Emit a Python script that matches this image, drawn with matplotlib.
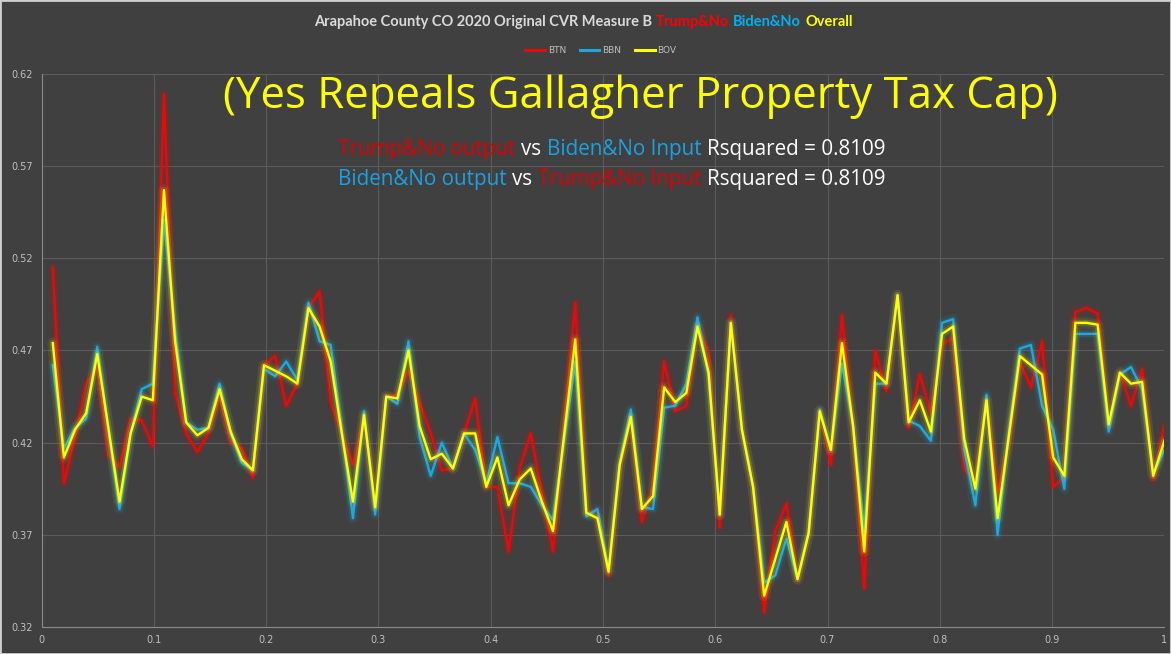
import numpy as np
import matplotlib
matplotlib.use("Agg")
from matplotlib import pyplot as plt
import matplotlib.patheffects as pe
from matplotlib.patches import Rectangle

# 101 points evenly spread over (0, 1]
x = np.arange(1, 102) / 101

btn = [0.515, 0.398, 0.423, 0.452, 0.461, 0.413, 0.407, 0.433, 0.432, 0.418,
       0.609, 0.447, 0.425, 0.415, 0.425, 0.445, 0.420, 0.417, 0.401, 0.462,
       0.467, 0.440, 0.452, 0.493, 0.502, 0.442, 0.425, 0.408, 0.434, 0.385,
       0.445, 0.446, 0.459, 0.442, 0.425, 0.405, 0.406, 0.425, 0.444, 0.396,
       0.396, 0.361, 0.406, 0.425, 0.393, 0.361, 0.429, 0.496, 0.382, 0.383,
       0.348, 0.407, 0.433, 0.377, 0.396, 0.464, 0.437, 0.440, 0.484, 0.469,
       0.374, 0.489, 0.427, 0.396, 0.328, 0.372, 0.387, 0.345, 0.371, 0.438,
       0.408, 0.489, 0.427, 0.341, 0.470, 0.448, 0.500, 0.428, 0.457, 0.436,
       0.473, 0.477, 0.406, 0.398, 0.444, 0.393, 0.420, 0.464, 0.450, 0.475,
       0.396, 0.401, 0.491, 0.493, 0.490, 0.429, 0.458, 0.440, 0.460, 0.400,
       0.429]
bbn = [0.462, 0.417, 0.428, 0.433, 0.472, 0.427, 0.384, 0.425, 0.449, 0.452,
       0.541, 0.481, 0.431, 0.427, 0.428, 0.452, 0.425, 0.409, 0.405, 0.460,
       0.456, 0.464, 0.454, 0.496, 0.475, 0.473, 0.427, 0.379, 0.437, 0.381,
       0.445, 0.441, 0.475, 0.423, 0.402, 0.420, 0.406, 0.425, 0.416, 0.398,
       0.423, 0.398, 0.398, 0.396, 0.386, 0.378, 0.421, 0.464, 0.380, 0.384,
       0.351, 0.409, 0.438, 0.385, 0.384, 0.439, 0.440, 0.452, 0.488, 0.456,
       0.381, 0.485, 0.427, 0.396, 0.344, 0.348, 0.368, 0.346, 0.371, 0.438,
       0.416, 0.463, 0.429, 0.372, 0.452, 0.452, 0.500, 0.432, 0.429, 0.421,
       0.485, 0.487, 0.416, 0.386, 0.446, 0.370, 0.425, 0.471, 0.473, 0.440,
       0.427, 0.395, 0.479, 0.479, 0.479, 0.426, 0.457, 0.461, 0.449, 0.403,
       0.416]
bov = [0.474, 0.412, 0.427, 0.436, 0.468, 0.428, 0.388, 0.425, 0.445, 0.443,
       0.557, 0.475, 0.431, 0.424, 0.428, 0.449, 0.426, 0.411, 0.405, 0.462,
       0.459, 0.456, 0.452, 0.493, 0.483, 0.464, 0.425, 0.388, 0.435, 0.385,
       0.445, 0.444, 0.470, 0.429, 0.411, 0.414, 0.406, 0.425, 0.425, 0.396,
       0.412, 0.386, 0.400, 0.406, 0.388, 0.372, 0.424, 0.476, 0.382, 0.379,
       0.350, 0.408, 0.434, 0.384, 0.391, 0.450, 0.442, 0.447, 0.483, 0.458,
       0.381, 0.485, 0.427, 0.396, 0.337, 0.357, 0.377, 0.346, 0.371, 0.437,
       0.416, 0.474, 0.429, 0.361, 0.458, 0.452, 0.500, 0.431, 0.443, 0.426,
       0.479, 0.483, 0.422, 0.395, 0.443, 0.379, 0.423, 0.467, 0.462, 0.457,
       0.412, 0.402, 0.485, 0.485, 0.484, 0.430, 0.458, 0.452, 0.453, 0.402,
       0.421]

names = ["BTN", "BBN", "BOV"]
yticks = [0.32, 0.37, 0.42, 0.47, 0.52, 0.57, 0.62]
xticks = [0, 0.1, 0.2, 0.3, 0.4, 0.5, 0.6, 0.7, 0.8, 0.9, 1]
xticklabels = ["0", "0.1", "0.2", "0.3", "0.4", "0.5", "0.6", "0.7", "0.8", "0.9", "1"]

RED = "#e50b0b"
BLUE = "#1fa8dc"
YEL = "#ffff00"
BG = "#404040"
TXT = "#bfbfbf"

fig = plt.figure(figsize=(11.71, 6.54), dpi=100, facecolor=BG)
ax = fig.add_axes([0.0356, 0.0413, 0.9587, 0.8456], facecolor=BG)

for vals, c, n in zip([btn, bbn, bov], [RED, BLUE, YEL], names):
    ax.plot(x, vals, color=c, lw=1.7, label=n, solid_joinstyle="round",
            path_effects=[pe.Stroke(linewidth=8, foreground=c, alpha=0.07,
                                    joinstyle="round", capstyle="round"),
                          pe.Stroke(linewidth=4.5, foreground=c, alpha=0.16,
                                    joinstyle="round", capstyle="round"),
                          pe.Normal()])

ax.set_xlim(0, 1)
ax.set_ylim(0.32, 0.62)
ax.set_yticks(yticks)
ax.set_yticklabels([f"{v:.2f}" for v in yticks])
ax.set_xticks(xticks)
ax.set_xticklabels(xticklabels)
ax.grid(True, color="#5c5c5c", lw=0.8)
ax.set_axisbelow(True)
ax.tick_params(colors=TXT, labelsize=7, length=0, pad=6)
for s in ["top", "right"]:
    ax.spines[s].set_visible(False)
for s in ["left", "bottom"]:
    ax.spines[s].set_color("#8a8a8a")

leg = fig.legend(loc="center", bbox_to_anchor=(0.513, 0.923), ncol=3, frameon=False,
                 fontsize=6.5, handlelength=2.2, columnspacing=1.5, handletextpad=0.3,
                 labelcolor=TXT)
for h in leg.legend_handles:
    h.set_path_effects([])
    h.set_linewidth(2.2)


def colored_line(xf, yf, parts, size, family, weight="normal"):
    t = fig.text(xf, yf, parts[0][0], color=parts[0][1], fontsize=size,
                 family=family, weight=weight, ha="left", va="center")
    for s, c in parts[1:]:
        t = ax.annotate(s, xy=(1, 0), xycoords=t, xytext=(size * 0.28, 0),
                        textcoords="offset points", color=c, fontsize=size,
                        family=family, weight=weight, ha="left", va="bottom",
                        annotation_clip=False)


colored_line(0.268, 0.966,
             [("Arapahoe County CO 2020 Original CVR Measure B", "#d9d9d9"),
              ("Trump&No", "#ff0000"), ("Biden&No", "#00b0f0"), ("Overall", YEL)],
             10.5, ["Lato", "DejaVu Sans"], "bold")

fig.text(0.5465, 0.852, "(Yes Repeals Gallagher Property Tax Cap)", color=YEL,
         fontsize=31.5, family=["Open Sans", "DejaVu Sans"], ha="center", va="center")

sans = ["Open Sans", "DejaVu Sans"]
colored_line(0.2886, 0.771,
             [("Trump&No output", "#e00000"), ("vs", "white"), ("Biden&No Input", "#1ba1e2"),
              ("Rsquared = 0.8109", "white")], 14.9, sans)
colored_line(0.2886, 0.725,
             [("Biden&No output", "#1ba1e2"), ("vs", "white"), ("Trump&No Input", "#e00000"),
              ("Rsquared = 0.8109", "white")], 14.9, sans)

fig.patches.append(Rectangle((0, 0), 1, 1, transform=fig.transFigure, fill=False,
                             edgecolor="#cfcfcf", lw=2))

fig.savefig("out.png", dpi=100, facecolor=BG)
